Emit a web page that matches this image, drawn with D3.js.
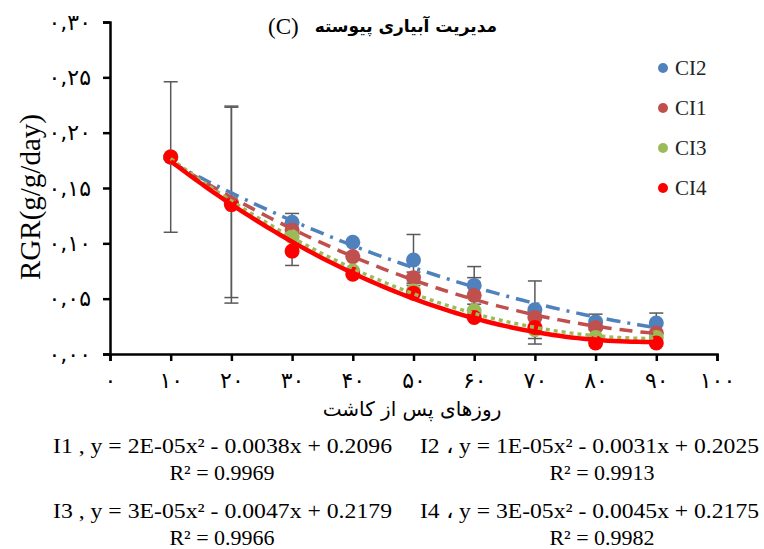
<!DOCTYPE html>
<html>
<head>
<meta charset="utf-8">
<script src="https://cdn.jsdelivr.net/npm/d3@7"></script>
<style>
  body { margin: 0; background: #fff; }
  svg { display: block; }
</style>
</head>
<body>
<div id="container"></div>
<script>
/* DATA */
const days = [10, 20, 30, 40, 50, 60, 70, 80, 90];
const ci2 = [0.178, 0.137, 0.119, 0.101, 0.085, 0.062, 0.040, 0.029, 0.028];
const ci1 = [0.178, 0.136, 0.112, 0.088, 0.069, 0.053, 0.033, 0.024, 0.019];
const ci3 = [0.178, 0.136, 0.106, 0.075, 0.057, 0.039, 0.022, 0.015, 0.015];
const ci4 = [0.178, 0.135, 0.093, 0.072, 0.055, 0.033, 0.024, 0.010, 0.010];
const ci2Err = [0.068, 0.086, 0.008, 0, 0.023, 0.017, 0.026, 0.007, 0.009];
const ci1Err = [0, 0, 0, 0, 0.005, 0.016, 0, 0, 0];
const ci4Err = [0, 0.089, 0.013, 0, 0, 0, 0.015, 0, 0];
const xTicks = [0, 10, 20, 30, 40, 50, 60, 70, 80, 90, 100];
const yTicks = [0, 0.05, 0.10, 0.15, 0.20, 0.25, 0.30];
const seriesNames = ["CI2", "CI1", "CI3", "CI4"];
const equations = [
  ["I1 , y = 2E-05x² - 0.0038x + 0.2096", "R² = 0.9969"],
  ["I2 ، y = 1E-05x² - 0.0031x + 0.2025", "R² = 0.9913"],
  ["I3 , y = 3E-05x² - 0.0047x + 0.2179", "R² = 0.9966"],
  ["I4 ، y = 3E-05x² - 0.0045x + 0.2175", "R² = 0.9982"]
];
const titleTag = "(C)";
const title = "مدیریت آبیاری پیوسته";
const xTitle = "روزهای پس از کاشت";
const yTitle = "RGR(g/g/day)";

const width = 764, height = 549;
const SERIF = "Liberation Serif";

const series = [
  { name: seriesNames[0], values: ci2, err: ci2Err, color: "#4F81BD", dash: "14,7,3,7", lw: 3.5 },
  { name: seriesNames[1], values: ci1, err: ci1Err, color: "#C0504D", dash: "13,8", lw: 3.5 },
  { name: seriesNames[2], values: ci3, err: null, color: "#9BBB59", dash: "4,4", lw: 3.5 },
  { name: seriesNames[3], values: ci4, err: ci4Err, color: "#FF0000", dash: null, lw: 4.5 }
];

const fa = s => String(s).replace(/[0-9]/g, c => "۰۱۲۳۴۵۶۷۸۹"[+c]);

// quadratic least squares, like the spreadsheet trendline
function polyFit(xs, ys) {
  let s = [0, 0, 0, 0, 0], t = [0, 0, 0];
  xs.forEach((x, i) => {
    for (let k = 0; k < 5; k++) s[k] += Math.pow(x, k);
    for (let k = 0; k < 3; k++) t[k] += Math.pow(x, k) * ys[i];
  });
  const A = [[s[0], s[1], s[2], t[0]], [s[1], s[2], s[3], t[1]], [s[2], s[3], s[4], t[2]]];
  for (let i = 0; i < 3; i++) {
    for (let j = i + 1; j < 3; j++) {
      const f = A[j][i] / A[i][i];
      for (let k = i; k < 4; k++) A[j][k] -= f * A[i][k];
    }
  }
  const c = [0, 0, 0];
  for (let i = 2; i >= 0; i--) {
    let v = A[i][3];
    for (let k = i + 1; k < 3; k++) v -= A[i][k] * c[k];
    c[i] = v / A[i][i];
  }
  return x => c[0] + c[1] * x + c[2] * x * x;
}

const svg = d3.select("#container").append("svg")
  .attr("width", width).attr("height", height);

const xScale = d3.scaleLinear().domain([0, 100]).range([110, 717]);
const yScale = d3.scaleLinear().domain([0, 0.30]).range([354, 22]);

/* axes */
const yAxis = d3.axisLeft(yScale).tickValues(yTicks).tickSize(7).tickPadding(12)
  .tickFormat(d => fa(d3.format(".2f")(d).replace(".", ",")));
const xAxis = d3.axisBottom(xScale).tickValues(xTicks).tickSize(7).tickPadding(11)
  .tickFormat(d => fa(d));

const yg = svg.append("g").attr("transform", `translate(110,0)`).call(yAxis);
const xg = svg.append("g").attr("transform", `translate(0,354)`).call(xAxis);
[yg, xg].forEach(g => {
  g.attr("font-family", null).attr("font-size", null);
  g.selectAll("path.domain").attr("stroke", "#000").attr("stroke-width", 2.5);
  g.selectAll(".tick line").attr("stroke", "#000").attr("stroke-width", 2.5);
  g.selectAll(".tick text").attr("fill", "#000")
    .attr("font-family", "DejaVu Sans").attr("font-size", 22);
});

/* error bars */
const errG = svg.append("g");
series.filter(s => s.err).forEach(s => {
  days.forEach((d, i) => {
    const e = s.err[i];
    if (!e) return;
    const x = xScale(d), y1 = yScale(s.values[i] + e), y2 = yScale(s.values[i] - e);
    errG.append("line").attr("x1", x).attr("x2", x).attr("y1", y1).attr("y2", y2)
      .attr("stroke", "#595959").attr("stroke-width", 1.5);
    [y1, y2].forEach(yy => errG.append("line")
      .attr("x1", x - 7).attr("x2", x + 7).attr("y1", yy).attr("y2", yy)
      .attr("stroke", "#595959").attr("stroke-width", 1.5));
  });
});

/* markers */
series.forEach(s => {
  svg.append("g").selectAll("circle")
    .data(days.map((d, i) => [d, s.values[i]]))
    .join("circle")
    .attr("cx", d => xScale(d[0]))
    .attr("cy", d => yScale(d[1]))
    .attr("r", 7.5)
    .attr("fill", s.color);
});

/* trendlines */
const lineGen = d3.line().x(d => xScale(d[0])).y(d => yScale(d[1]));
series.forEach(s => {
  const f = polyFit(days, s.values);
  const pts = d3.range(10, 90.5, 1).map(x => [x, f(x)]);
  svg.append("path")
    .attr("d", lineGen(pts))
    .attr("fill", "none")
    .attr("stroke", s.color)
    .attr("stroke-width", s.lw)
    .attr("stroke-dasharray", s.dash);
});

/* legend */
const legend = svg.append("g");
series.forEach((s, i) => {
  const ly = 68 + i * 40;
  legend.append("circle").attr("cx", 663).attr("cy", ly).attr("r", 5).attr("fill", s.color);
  legend.append("text").attr("x", 675).attr("y", ly).attr("dy", "0.35em")
    .attr("font-family", SERIF).attr("font-size", 21)
    .attr("fill", "#222").text(s.name);
});

/* titles */
svg.append("text").attr("x", 268).attr("y", 26).attr("dy", "0.35em")
  .attr("font-family", SERIF).attr("font-size", 23).text(titleTag);
svg.append("text").attr("x", 497).attr("y", 26).attr("dy", "0.35em")
  .attr("text-anchor", "end")
  .attr("font-family", "DejaVu Sans").attr("font-size", 17)
  .attr("font-weight", "bold").text(title);

svg.append("text").attr("x", 412).attr("y", 409).attr("dy", "0.35em")
  .attr("text-anchor", "middle")
  .attr("font-family", "DejaVu Sans").attr("font-size", 20)
  .text(xTitle);

svg.append("text")
  .attr("transform", "translate(30,197) rotate(-90)")
  .attr("text-anchor", "middle").attr("dy", "0.35em")
  .attr("font-family", SERIF).attr("font-size", 29)
  .text(yTitle);

/* equations */
const eqPos = [[53, 453, 222], [420, 453, 602], [53, 518, 222], [420, 518, 602]];
equations.forEach((eq, i) => {
  const [x0, y0, cx] = eqPos[i];
  svg.append("text").attr("x", x0).attr("y", y0)
    .attr("textLength", 339).attr("lengthAdjust", "spacingAndGlyphs")
    .attr("font-family", SERIF).attr("font-size", 22)
    .text(eq[0]);
  svg.append("text").attr("x", cx).attr("y", y0 + 27)
    .attr("text-anchor", "middle")
    .attr("font-family", SERIF).attr("font-size", 22)
    .text(eq[1]);
});
</script>
</body>
</html>
